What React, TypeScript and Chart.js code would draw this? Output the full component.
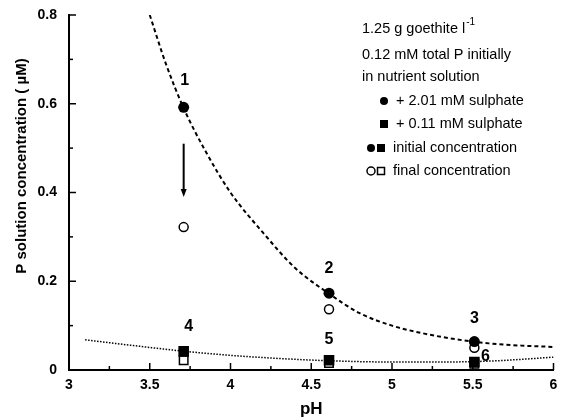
import React, { useEffect, useRef } from "react";
import { Chart, registerables } from "chart.js";

Chart.register(...registerables);

const FONT = "'Liberation Sans', Arial, Helvetica, sans-serif";

// pH of the three experiments
const expPH = [3.71, 4.61, 5.51];
// + 2.01 mM sulphate (circles)
const highSulphInitial = [0.592, 0.173, 0.064];
const highSulphFinal = [0.322, 0.137, 0.05];
const highSulphLabels = ["1", "2", "3"];
// + 0.11 mM sulphate (squares)
const lowSulphInitial = [0.042, 0.022, 0.018];
const lowSulphFinal = [0.022, 0.016, 0.014];
const lowSulphLabels = ["4", "5", "6"];

// fitted curves
const highCurvePH = [3.5, 3.6, 3.71, 3.85, 4.0, 4.2, 4.4, 4.61, 4.8, 5.0, 5.2, 5.4, 5.6, 5.8, 6.0];
const highCurveP = [0.8, 0.69, 0.59, 0.49, 0.4, 0.31, 0.23, 0.172, 0.128, 0.1, 0.082, 0.069, 0.06, 0.055, 0.052];
const lowCurvePH = [3.1, 3.4, 3.72, 4.0, 4.3, 4.6, 5.0, 5.3, 5.6, 5.8, 6.0];
const lowCurveP = [0.068, 0.055, 0.042, 0.033, 0.026, 0.021, 0.018, 0.018, 0.02, 0.024, 0.029];

// arrow from initial to final (experiment 1)
const arrowPH = 3.71;
const arrowFrom = 0.51;
const arrowTo = 0.39;

const xTicks = [3, 3.5, 4, 4.5, 5, 5.5, 6];
const xTickLabels = ["3", "3.5", "4", "4.5", "5", "5.5", "6"];
const xMinorTicks = [3.25, 3.75, 4.25, 4.75, 5.25, 5.75];
const yTicks = [0, 0.2, 0.4, 0.6, 0.8];
const yTickLabels = ["0", "0.2", "0.4", "0.6", "0.8"];
const yMinorTicks = [0.1, 0.3, 0.5, 0.7];

const xTitle = "pH";
const yTitle = "P solution concentration ( \u00b5M)";
const noteLines = ["1.25 g goethite l", "0.12 mM total P initially", "in nutrient solution"];
const noteSup = "-1";
const legendHigh = "+ 2.01 mM sulphate";
const legendLow = "+ 0.11 mM sulphate";
const legendInitial = "initial concentration";
const legendFinal = "final concentration";

const pts = (xs: number[], ys: number[]) => xs.map((x, i) => ({ x, y: ys[i] }));

const decorPlugin = {
  id: "decor",
  beforeDraw(chart: any) {
    const { ctx, width, height } = chart;
    ctx.save();
    ctx.fillStyle = "#fff";
    ctx.fillRect(0, 0, width, height);
    ctx.restore();
  },
  afterDraw(chart: any) {
    const { ctx, chartArea } = chart;
    const xs = chart.scales.x;
    const ys = chart.scales.y;
    ctx.save();
    ctx.strokeStyle = "#000";
    ctx.fillStyle = "#000";
    ctx.lineWidth = 1.5;
    const seg = (x1: number, y1: number, x2: number, y2: number) => {
      ctx.beginPath();
      ctx.moveTo(x1, y1);
      ctx.lineTo(x2, y2);
      ctx.stroke();
    };
    // inward tick marks
    xTicks.forEach((v) => {
      const p = xs.getPixelForValue(v);
      seg(p, chartArea.bottom, p, chartArea.bottom - 7);
    });
    xMinorTicks.forEach((v) => {
      const p = xs.getPixelForValue(v);
      seg(p, chartArea.bottom, p, chartArea.bottom - 4);
    });
    yTicks.forEach((v) => {
      const p = ys.getPixelForValue(v);
      seg(chartArea.left, p, chartArea.left + 7, p);
    });
    yMinorTicks.forEach((v) => {
      const p = ys.getPixelForValue(v);
      seg(chartArea.left, p, chartArea.left + 4, p);
    });

    // arrow
    const ax = xs.getPixelForValue(arrowPH);
    const a1 = ys.getPixelForValue(arrowFrom);
    const a2 = ys.getPixelForValue(arrowTo);
    ctx.lineWidth = 2;
    seg(ax, a1, ax, a2 - 6);
    ctx.beginPath();
    ctx.moveTo(ax - 3, a2 - 8);
    ctx.lineTo(ax + 3, a2 - 8);
    ctx.lineTo(ax, a2);
    ctx.closePath();
    ctx.fill();

    // point number labels
    ctx.font = `bold 16px ${FONT}`;
    ctx.textAlign = "center";
    ctx.textBaseline = "middle";
    const highOff = [
      [1, -27],
      [0, -25],
      [0, -23],
    ];
    highSulphLabels.forEach((t, i) => {
      const px = xs.getPixelForValue(expPH[i]);
      const py = ys.getPixelForValue(highSulphInitial[i]);
      ctx.fillText(t, px + highOff[i][0], py + highOff[i][1]);
    });
    const lowOff = [
      [5, -25],
      [0, -21],
      [11, -5],
    ];
    lowSulphLabels.forEach((t, i) => {
      const px = xs.getPixelForValue(expPH[i]);
      const py = ys.getPixelForValue(lowSulphInitial[i]);
      ctx.fillText(t, px + lowOff[i][0], py + lowOff[i][1]);
    });

    // axis titles
    ctx.font = `bold 17px ${FONT}`;
    ctx.fillText(xTitle, (chartArea.left + chartArea.right) / 2, 409);
    ctx.save();
    ctx.translate(22, 166);
    ctx.rotate(-Math.PI / 2);
    ctx.font = `bold 15px ${FONT}`;
    ctx.fillText(yTitle, 0, 0);
    ctx.restore();

    // note + legend
    ctx.textAlign = "left";
    const lf = `14.5px ${FONT}`;
    ctx.font = lf;
    const noteX = 362;
    const noteY = [29, 55, 77];
    noteLines.forEach((t, i) => ctx.fillText(t, noteX, noteY[i]));
    const w0 = ctx.measureText(noteLines[0]).width;
    ctx.font = `10px ${FONT}`;
    ctx.fillText(noteSup, noteX + w0 + 1, noteY[0] - 7);
    ctx.font = lf;

    const rowY = [101, 124, 148, 171];
    const dot = (x: number, y: number, filled: boolean) => {
      ctx.beginPath();
      ctx.arc(x, y, 4, 0, Math.PI * 2);
      if (filled) ctx.fill();
      else {
        ctx.fillStyle = "#fff";
        ctx.fill();
        ctx.fillStyle = "#000";
        ctx.lineWidth = 1.5;
        ctx.stroke();
      }
    };
    const sq = (x: number, y: number, filled: boolean) => {
      if (filled) ctx.fillRect(x - 4, y - 4, 8, 8);
      else {
        ctx.lineWidth = 1.5;
        ctx.strokeRect(x - 3.5, y - 3.5, 7, 7);
      }
    };
    dot(384, rowY[0], true);
    ctx.fillText(legendHigh, 396, rowY[0]);
    sq(384, rowY[1], true);
    ctx.fillText(legendLow, 396, rowY[1]);
    dot(371, rowY[2], true);
    sq(381, rowY[2], true);
    ctx.fillText(legendInitial, 393, rowY[2]);
    dot(371, rowY[3], false);
    sq(381, rowY[3], false);
    ctx.fillText(legendFinal, 393, rowY[3]);
    ctx.restore();
  },
};

export default function App() {
  const ref = useRef<HTMLCanvasElement>(null);
  useEffect(() => {
    document.body.style.margin = "0";
    const tickFont = { family: FONT, size: 14, weight: "bold" as const };
    const chart = new Chart(ref.current as HTMLCanvasElement, {
      type: "scatter",
      data: {
        datasets: [
          {
            label: "fit 2.01 mM",
            data: pts(highCurvePH, highCurveP),
            showLine: true,
            borderColor: "#000",
            borderWidth: 2,
            borderDash: [4, 3],
            pointRadius: 0,
            cubicInterpolationMode: "monotone",
            order: 5,
          },
          {
            label: "fit 0.11 mM",
            data: pts(lowCurvePH, lowCurveP),
            showLine: true,
            borderColor: "#000",
            borderWidth: 1.5,
            borderDash: [1.5, 1.5],
            pointRadius: 0,
            cubicInterpolationMode: "monotone",
            order: 6,
          },
          {
            label: "final 0.11",
            data: pts(expPH, lowSulphFinal),
            pointStyle: "rect",
            pointRadius: 6,
            backgroundColor: "#fff",
            borderColor: "#000",
            borderWidth: 1.5,
            order: 4,
          },
          {
            label: "final 2.01",
            data: pts(expPH, highSulphFinal),
            pointStyle: "circle",
            pointRadius: 4.5,
            backgroundColor: "#fff",
            borderColor: "#000",
            borderWidth: 1.5,
            order: 3,
          },
          {
            label: "initial 2.01",
            data: pts(expPH, highSulphInitial),
            pointStyle: "circle",
            pointRadius: 5.5,
            backgroundColor: "#000",
            borderColor: "#000",
            borderWidth: 0,
            order: 2,
          },
          {
            label: "initial 0.11",
            data: pts(expPH, lowSulphInitial),
            pointStyle: "rect",
            pointRadius: 7.5,
            backgroundColor: "#000",
            borderColor: "#000",
            borderWidth: 0,
            order: 1,
          },
        ],
      },
      options: {
        animation: false,
        responsive: false,
        devicePixelRatio: 1,
        layout: { padding: { top: 15, right: 3, left: 0, bottom: 0 } },
        plugins: { legend: { display: false }, tooltip: { enabled: false }, title: { display: false } },
        scales: {
          x: {
            type: "linear",
            position: "bottom",
            min: 3,
            max: 6,
            grid: { display: false, drawTicks: false },
            border: { display: true, color: "#000", width: 2 },
            ticks: {
              color: "#000",
              font: tickFont,
              padding: 7,
              maxRotation: 0,
              autoSkip: false,
              callback: (_v: any, i: number) => xTickLabels[i],
            },
            afterBuildTicks: (s: any) => {
              s.ticks = xTicks.map((v) => ({ value: v }));
            },
            afterFit: (s: any) => {
              s.height = 49;
              s.paddingLeft = 0;
              s.paddingRight = 0;
            },
          },
          y: {
            type: "linear",
            min: 0,
            max: 0.8,
            grid: { display: false, drawTicks: false },
            border: { display: true, color: "#000", width: 2 },
            ticks: {
              color: "#000",
              font: tickFont,
              padding: 12,
              autoSkip: false,
              callback: (_v: any, i: number) => yTickLabels[i],
            },
            afterBuildTicks: (s: any) => {
              s.ticks = yTicks.map((v) => ({ value: v }));
            },
            afterFit: (s: any) => {
              s.width = 69;
              s.paddingTop = 0;
              s.paddingBottom = 0;
            },
          },
        },
      },
      plugins: [decorPlugin],
    } as any);
    return () => chart.destroy();
  }, []);
  return (
    <div style={{ position: "absolute", left: 0, top: 0, width: 561, height: 419, background: "#fff" }}>
      <canvas ref={ref} width={561} height={419} style={{ display: "block", width: 561, height: 419 }} />
    </div>
  );
}
